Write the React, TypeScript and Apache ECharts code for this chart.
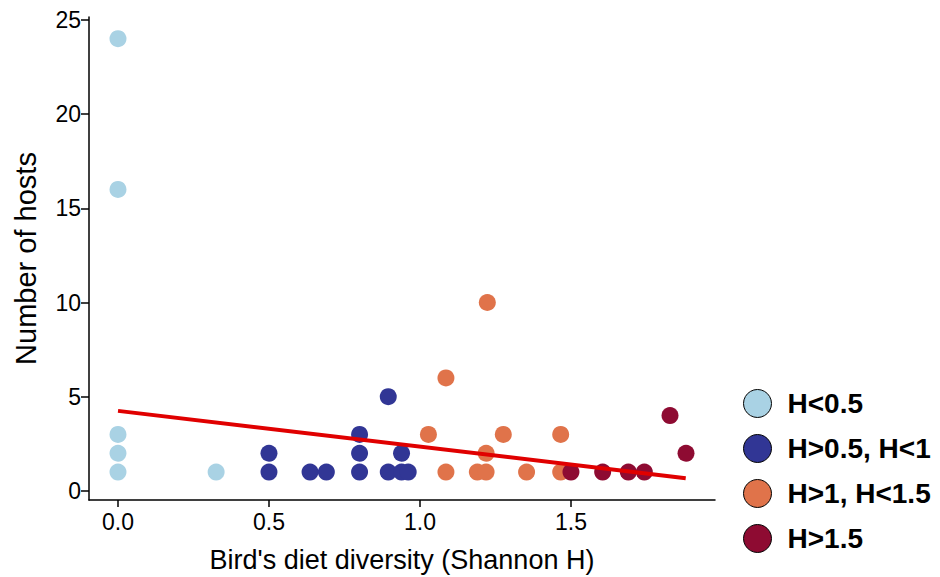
import React, { useEffect, useRef } from "react";
import * as echarts from "echarts";

const groupNames = ["H<0.5", "H>0.5, H<1", "H>1, H<1.5", "H>1.5"];
const groupColors = ["#a9d2e4", "#313695", "#e0734a", "#8e0b32"];

const lightBlueX = [0, 0, 0, 0, 0, 0.325];
const lightBlueY = [24, 16, 3, 2, 1, 1];

const darkBlueX = [0.5, 0.5, 0.636, 0.69, 0.8, 0.8, 0.8, 0.895, 0.895, 0.939, 0.939, 0.961];
const darkBlueY = [1, 2, 1, 1, 1, 2, 3, 1, 5, 1, 2, 1];

const orangeX = [1.028, 1.086, 1.086, 1.19, 1.219, 1.219, 1.223, 1.276, 1.353, 1.466, 1.466];
const orangeY = [3, 1, 6, 1, 1, 2, 10, 3, 1, 1, 3];

const darkRedX = [1.5, 1.605, 1.69, 1.743, 1.828, 1.881];
const darkRedY = [1, 1, 1, 1, 4, 2];

const fitX = [0, 1.88];
const fitY = [4.25, 0.68];

const xTicks = [0, 0.5, 1, 1.5];
const yTicks = [0, 5, 10, 15, 20, 25];

const FONT = "'Liberation Sans', Arial, Helvetica, sans-serif";

function pairs(xs: number[], ys: number[]) {
  return xs.map((x, i) => [x, ys[i]]);
}

export default function App() {
  const ref = useRef<HTMLDivElement>(null);
  useEffect(() => {
    if (!ref.current) return;
    const chart = echarts.init(ref.current, undefined, { renderer: "svg" });
    const groups = [
      pairs(lightBlueX, lightBlueY),
      pairs(darkBlueX, darkBlueY),
      pairs(orangeX, orangeY),
      pairs(darkRedX, darkRedY),
    ];
    chart.setOption({
      animation: false,
      backgroundColor: "#ffffff",
      grid: { left: 89, right: 225, top: 17, bottom: 77, outerBoundsMode: "none", containLabel: false },
      legend: {
        orient: "vertical",
        left: 743,
        top: 389,
        padding: 0,
        itemWidth: 28,
        itemHeight: 28,
        itemGap: 16,
        icon: "circle",
        data: groupNames,
        itemStyle: { borderColor: "#000", borderWidth: 1 },
        textStyle: {
          fontFamily: FONT,
          fontSize: 28,
          fontWeight: "bold",
          color: "#000",
          padding: [0, 0, 0, 11],
        },
      },
      xAxis: {
        type: "value",
        min: -0.096,
        max: 1.977,
        name: "Bird's diet diversity (Shannon H)",
        nameLocation: "middle",
        nameGap: 46,
        nameTextStyle: { fontFamily: FONT, fontSize: 27, color: "#000" },
        splitLine: { show: false },
        axisLine: { onZero: false, lineStyle: { color: "#000", width: 1.5 } },
        axisTick: { customValues: xTicks, length: 7, lineStyle: { color: "#000", width: 1.5 } },
        axisLabel: {
          customValues: xTicks,
          formatter: (v: number) => v.toFixed(1),
          fontFamily: FONT,
          fontSize: 23,
          color: "#000",
          margin: 10,
        },
      },
      yAxis: {
        type: "value",
        min: -0.48,
        max: 25.15,
        name: "Number of hosts",
        nameLocation: "middle",
        nameGap: 49,
        nameTextStyle: { fontFamily: FONT, fontSize: 29, color: "#000" },
        splitLine: { show: false },
        axisLine: { show: true, onZero: false, lineStyle: { color: "#000", width: 1.5 } },
        axisTick: { show: true, customValues: yTicks, length: 8, lineStyle: { color: "#000", width: 1.5 } },
        axisLabel: {
          customValues: yTicks,
          fontFamily: FONT,
          fontSize: 23,
          color: "#000",
          margin: 8,
        },
      },
      series: [
        ...groups.map((d, i) => ({
          name: groupNames[i],
          type: "scatter",
          data: d,
          symbolSize: 17,
          itemStyle: { color: groupColors[i], opacity: 1 },
          z: 2 + i,
        })),
        {
          name: "fit",
          type: "line",
          data: pairs(fitX, fitY),
          showSymbol: false,
          symbol: "none",
          lineStyle: { color: "#e00000", width: 4 },
          z: 10,
        },
      ],
    });
    return () => chart.dispose();
  }, []);
  return (
    <div
      ref={ref}
      style={{ position: "fixed", left: 0, top: 0, width: 940, height: 577 }}
    />
  );
}
